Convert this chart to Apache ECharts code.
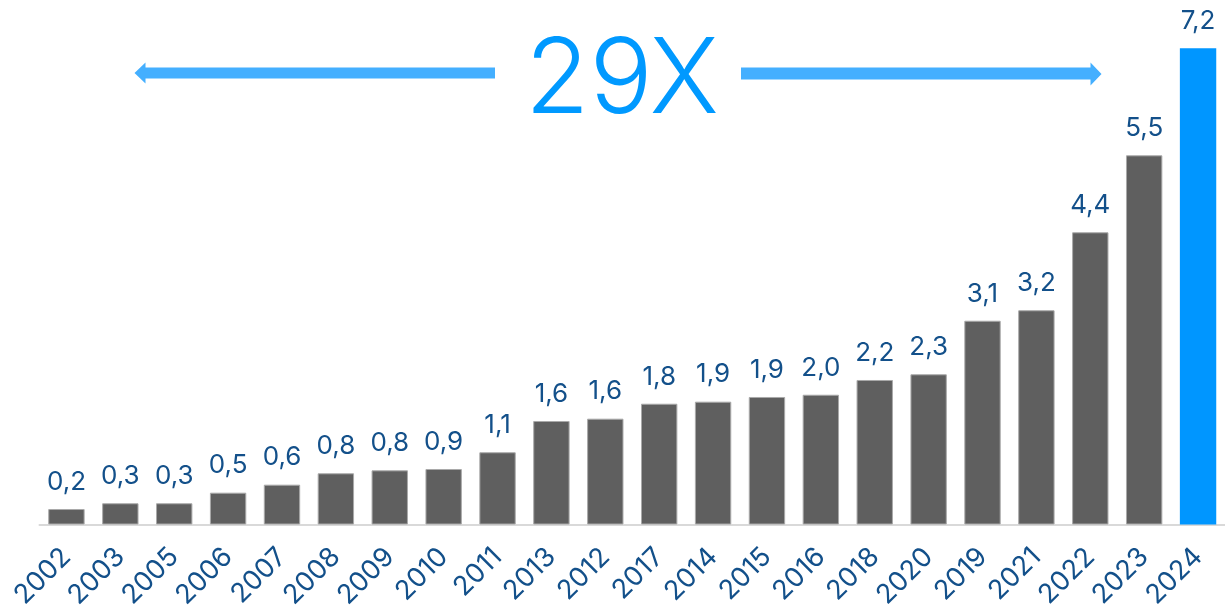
<!DOCTYPE html>
<html>
<head>
<meta charset="utf-8">
<script src="https://cdn.jsdelivr.net/npm/echarts@6/dist/echarts.min.js"></script>
<style>
html,body{margin:0;padding:0;background:#fff;}
#chart{width:1225px;height:613px;}
</style>
</head>
<body>
<div id="chart"></div>
<script>
// Categories (order as shown in the chart)
const categories = ['2002','2003','2005','2006','2007','2008','2009','2010','2011','2013','2012','2017','2014','2015','2016','2018','2020','2019','2021','2022','2023','2024'];
// Bar values
const values = [0.234, 0.321, 0.321, 0.481, 0.602, 0.774, 0.819, 0.839, 1.092, 1.565, 1.600, 1.826, 1.857, 1.928, 1.962, 2.185, 2.271, 3.081, 3.239, 4.418, 5.582, 7.2];
// Value labels as printed on the chart
const valueLabels = ['0,2','0,3','0,3','0,5','0,6','0,8','0,8','0,9','1,1','1,6','1,6','1,8','1,9','1,9','2,0','2,2','2,3','3,1','3,2','4,4','5,5','7,2'];
const growthText = '29X';
const highlightIndex = categories.length - 1;

const FONT = 'Inter';
const labelBlue = '#13508a';
const barGray = '#5f5f5f';
const barBlue = '#0096ff';
const arrowBlue = '#44afff';

const chart = echarts.init(document.getElementById('chart'), null, {renderer: 'canvas'});

const data = values.map((v, i) => ({
  value: v,
  itemStyle: i === highlightIndex
    ? {color: barBlue, borderWidth: 0}
    : {color: barGray, borderColor: '#a9a9a9', borderWidth: 1}
}));

const option = {
  animation: false,
  backgroundColor: '#ffffff',
  grid: {left: 39.5, top: 48.3, width: 1189, height: 476.2, containLabel: false},
  xAxis: {
    type: 'category',
    data: categories,
    axisLine: {show: true, lineStyle: {color: '#d9d9d9', width: 2}},
    axisTick: {show: false},
    axisLabel: {
      rotate: 45,
      margin: 28,
      interval: 0,
      color: labelBlue,
      fontFamily: FONT,
      fontSize: 27,
      fontWeight: 400
    }
  },
  yAxis: {
    type: 'value',
    min: 0,
    max: 7.2,
    show: false,
    splitLine: {show: false}
  },
  series: [{
    type: 'bar',
    data: data,
    barCategoryGap: '32.5%',
    label: {
      show: true,
      position: 'top',
      distance: 14,
      color: labelBlue,
      fontFamily: FONT,
      fontSize: 26,
      formatter: p => valueLabels[p.dataIndex]
    }
  }],
  graphic: [
    {
      type: 'polygon',
      shape: {points: [[134.5, 73], [145.5, 62.5], [145.5, 67.5], [495, 67.5], [495, 78.5], [145.5, 78.5], [145.5, 83.5]]},
      style: {fill: arrowBlue}
    },
    {
      type: 'polygon',
      shape: {points: [[1101.5, 74], [1090.5, 62.5], [1090.5, 67.5], [741, 67.5], [741, 79.5], [1090.5, 79.5], [1090.5, 85.5]]},
      style: {fill: arrowBlue}
    },
    {
      type: 'text',
      x: 622,
      y: 81,
      style: {
        text: growthText,
        fill: '#0099ff',
        font: '300 105px Inter',
        align: 'center',
        verticalAlign: 'middle'
      }
    }
  ]
};

chart.setOption(option);
</script>
</body>
</html>
